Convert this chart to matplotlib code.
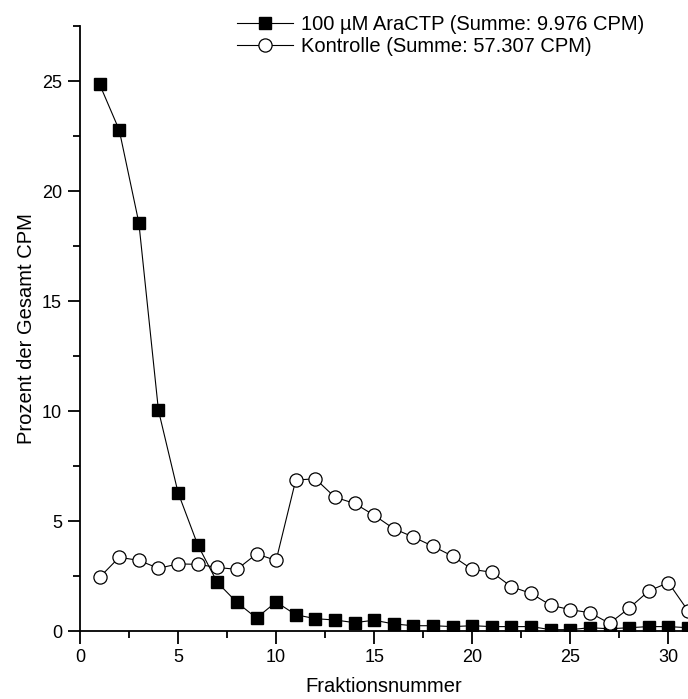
import numpy as np
import matplotlib
matplotlib.use("Agg")
import matplotlib.pyplot as plt
from matplotlib.ticker import MultipleLocator

plt.rcParams['font.family'] = ['Liberation Sans', 'DejaVu Sans']

# Fraktionen 1..31
fraktion = np.arange(1, 32)

aractp = [24.85, 22.77, 18.56, 10.03, 6.29, 3.92, 2.21, 1.30, 0.59, 1.32,
          0.74, 0.56, 0.50, 0.38, 0.49, 0.32, 0.24, 0.24, 0.20, 0.24,
          0.20, 0.20, 0.20, 0.06, 0.06, 0.15, 0.10, 0.15, 0.20, 0.20, 0.15]

kontrolle = [2.44, 3.35, 3.21, 2.85, 3.05, 3.03, 2.89, 2.80, 3.50, 3.21,
             6.86, 6.92, 6.08, 5.80, 5.26, 4.65, 4.27, 3.85, 3.40, 2.80,
             2.67, 2.01, 1.71, 1.17, 0.97, 0.83, 0.35, 1.04, 1.82, 2.20, 0.92]

label_ara = "100 µM AraCTP (Summe: 9.976 CPM)"
label_kon = "Kontrolle (Summe: 57.307 CPM)"

fig = plt.figure(figsize=(6.88, 6.99), dpi=100)
ax = fig.add_axes([80 / 688, (699 - 631) / 699, 1 - 80 / 688, (631 - 26) / 699])

ax.plot(fraktion, aractp, color='black', lw=0.8, marker='s', markersize=8.5,
        markerfacecolor='black', markeredgecolor='black', label=label_ara,
        clip_on=True, zorder=3)
ax.plot(fraktion, kontrolle, color='black', lw=0.8, marker='o', markersize=9.5,
        markerfacecolor='white', markeredgecolor='black', markeredgewidth=0.9,
        label=label_kon, clip_on=True, zorder=4)

ax.set_xlim(0, 31)
ax.set_ylim(0, 27.5)
ax.xaxis.set_major_locator(MultipleLocator(5))
ax.xaxis.set_minor_locator(MultipleLocator(2.5))
ax.yaxis.set_major_locator(MultipleLocator(5))
ax.yaxis.set_minor_locator(MultipleLocator(2.5))

for s in ['top', 'right']:
    ax.spines[s].set_visible(False)
for s in ['left', 'bottom']:
    ax.spines[s].set_linewidth(1.3)

ax.tick_params(which='major', direction='out', length=9, width=1.3, labelsize=13, pad=4)
ax.tick_params(which='minor', direction='out', length=5, width=1.3)

ax.set_xlabel("Fraktionsnummer", fontsize=14.5, labelpad=8)
ax.set_ylabel("Prozent der Gesamt CPM", fontsize=14.5, labelpad=4)

leg = ax.legend(loc='upper left', bbox_to_anchor=(222 / 688, 1.0), bbox_transform=fig.transFigure,
                frameon=False, fontsize=14.5, handlelength=2.8, handletextpad=0.35,
                labelspacing=0.15, borderaxespad=0.35)

fig.savefig("out.png", dpi=100)
